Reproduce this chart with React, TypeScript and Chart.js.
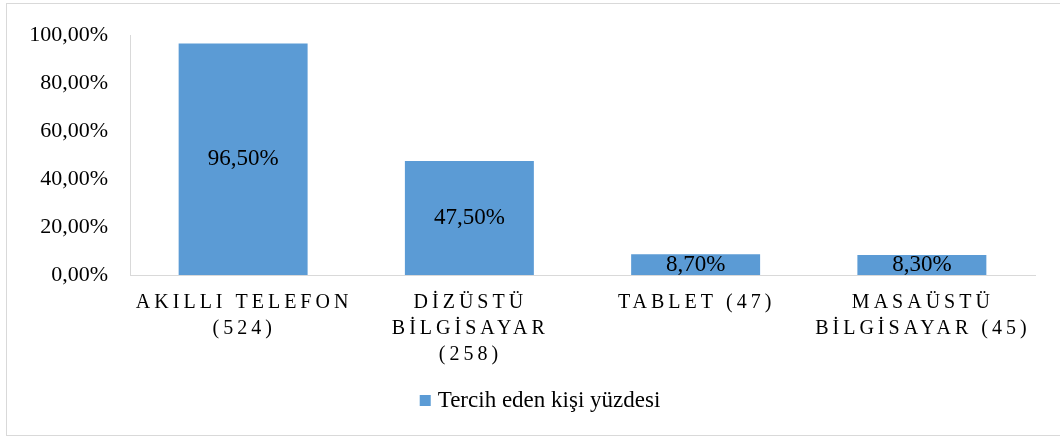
import React, { useEffect, useRef } from "react";
import { Chart, registerables } from "chart.js";

Chart.register(...registerables);

const categories: string[][] = [
  ["AKILLI TELEFON", "(524)"],
  ["DİZÜSTÜ", "BİLGİSAYAR", "(258)"],
  ["TABLET (47)"],
  ["MASAÜSTÜ", "BİLGİSAYAR (45)"],
];
const values: number[] = [96.5, 47.5, 8.7, 8.3];
const valueLabels: string[] = ["96,50%", "47,50%", "8,70%", "8,30%"];
const seriesName = "Tercih eden kişi yüzdesi";
const yMin = 0;
const yMax = 100;
const yStep = 20;

const FONT = '"Liberation Serif", "Times New Roman", serif';
const BAR_COLOR = "#5B9BD5";
const AXIS_COLOR = "#d9d9d9";
const LEGEND_CENTER_X = 540;
const LEGEND_CENTER_Y = 401;

const formatPct = (v: number) => v.toFixed(2).replace(".", ",") + "%";

const framePlugin = {
  id: "frame",
  beforeDraw(chart: any) {
    const ctx = chart.ctx;
    ctx.save();
    ctx.fillStyle = "#ffffff";
    ctx.fillRect(0, 0, chart.width, chart.height);
    ctx.strokeStyle = AXIS_COLOR;
    ctx.lineWidth = 1;
    ctx.strokeRect(6.5, 3.5, 1060, 432);
    ctx.restore();
  },
};

const labelsPlugin = {
  id: "customLabels",
  afterDatasetsDraw(chart: any) {
    const ctx = chart.ctx;
    const meta = chart.getDatasetMeta(0);
    ctx.save();
    ctx.fillStyle = "#000000";
    ctx.font = `23px ${FONT}`;
    ctx.textAlign = "center";
    ctx.textBaseline = "middle";
    meta.data.forEach((bar: any, i: number) => {
      const cy = (bar.y + bar.base) / 2;
      ctx.fillText(valueLabels[i], bar.x, cy);
    });
    ctx.restore();
  },
  afterDraw(chart: any) {
    const ctx = chart.ctx;
    const xs = chart.scales.x;
    const spacing = 4;
    ctx.save();
    ctx.fillStyle = "#000000";
    ctx.font = `20px ${FONT}`;
    (ctx as any).letterSpacing = `${spacing}px`;
    ctx.textAlign = "center";
    ctx.textBaseline = "alphabetic";
    const baseline0 = chart.chartArea.bottom + 33;
    const lh = 26;
    categories.forEach((lines, i) => {
      const x = xs.getPixelForValue(i) + spacing / 2 - 1;
      lines.forEach((line, j) => {
        ctx.fillText(line, x, baseline0 + j * lh);
      });
    });
    ctx.restore();

    // legend
    const ds = chart.data.datasets[0];
    ctx.save();
    ctx.font = `23px ${FONT}`;
    (ctx as any).letterSpacing = "0px";
    const tw = ctx.measureText(String(ds.label)).width;
    const box = 11;
    const gap = 7;
    const total = box + gap + tw;
    const x0 = LEGEND_CENTER_X - total / 2;
    ctx.fillStyle = ds.backgroundColor;
    ctx.fillRect(x0, LEGEND_CENTER_Y - box / 2 - 0.5, box, box);
    ctx.fillStyle = "#000000";
    ctx.textAlign = "left";
    ctx.textBaseline = "middle";
    ctx.fillText(String(ds.label), x0 + box + gap, LEGEND_CENTER_Y);
    ctx.restore();
  },
};

export default function App() {
  const canvasRef = useRef<HTMLCanvasElement | null>(null);

  useEffect(() => {
    let chart: Chart | null = null;
    let cancelled = false;
    const build = () => {
      if (cancelled || !canvasRef.current) return;
      chart = new Chart(canvasRef.current, {
        type: "bar",
        data: {
          labels: categories.map((c) => c.join(" ")),
          datasets: [
            {
              label: seriesName,
              data: values,
              backgroundColor: BAR_COLOR,
              borderWidth: 0,
              categoryPercentage: 1,
              barPercentage: 0.57,
            },
          ],
        },
        options: {
          animation: false,
          responsive: true,
          maintainAspectRatio: false,
          layout: { padding: { top: 33, right: 25, bottom: 0, left: 0 } },
          scales: {
            x: {
              grid: { display: false },
              border: { display: true, color: AXIS_COLOR, width: 1 },
              ticks: { display: false },
              afterFit: (scale: any) => {
                scale.height = 162;
              },
            },
            y: {
              min: yMin,
              max: yMax,
              grid: { display: false, drawTicks: false },
              border: { display: true, color: AXIS_COLOR, width: 1 },
              ticks: {
                stepSize: yStep,
                padding: 22,
                color: "#000000",
                font: { family: FONT, size: 22 },
                callback: (v: any) => formatPct(Number(v)),
              },
              afterFit: (scale: any) => {
                scale.width = 130;
              },
            },
          },
          plugins: {
            tooltip: { enabled: false },
            legend: { display: false },
          },
        },
        plugins: [framePlugin, labelsPlugin],
      });
    };
    const fontsApi = (document as any).fonts;
    if (fontsApi && fontsApi.load) {
      Promise.all([
        fontsApi.load(`20px "Liberation Serif"`),
        fontsApi.load(`23px "Liberation Serif"`),
      ])
        .catch(() => null)
        .then(build);
    } else {
      build();
    }
    return () => {
      cancelled = true;
      if (chart) chart.destroy();
    };
  }, []);

  return (
    <div style={{ position: "absolute", left: 0, top: 0, width: 1060, height: 437 }}>
      <canvas ref={canvasRef} />
    </div>
  );
}
